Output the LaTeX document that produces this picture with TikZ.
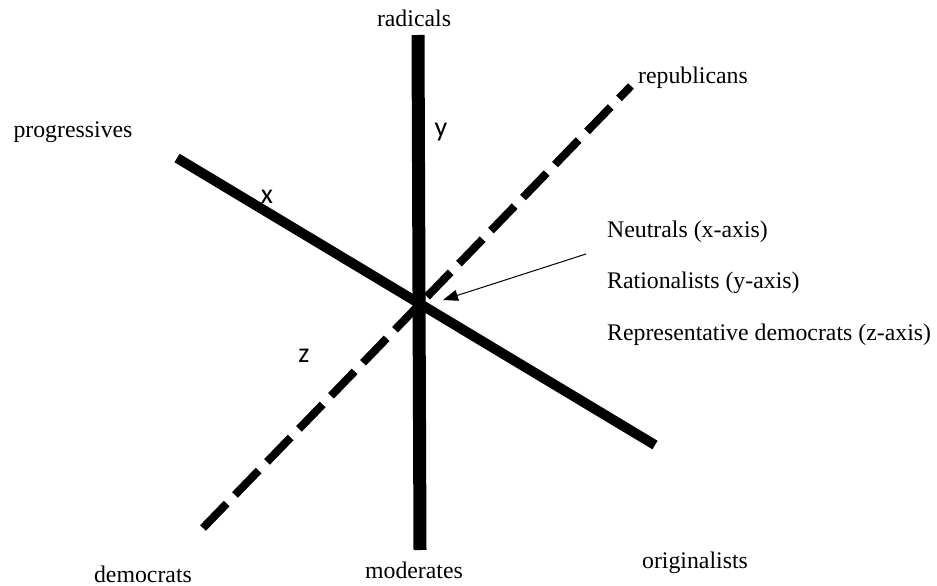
\documentclass[tikz,border=0pt]{standalone}
\usepackage{fontspec}
\setmainfont{Liberation Serif}
\newfontfamily\axisfont{Carlito}
\usetikzlibrary{arrows.meta, positioning}

\begin{document}
\begin{tikzpicture}[
    x=1pt, y=-1pt,
    lbl/.style={inner sep=0pt, anchor=base, font=\fontsize{23.8}{28}\selectfont},
    axlbl/.style={inner sep=0pt, anchor=base, font=\axisfont\fontsize{28}{32}\selectfont},
    axis/.style={draw=black, line cap=butt},
    arr/.style={-{Triangle[length=15pt,width=11pt]}, draw=black, line width=1pt}
  ]
    \useasboundingbox (0,0) rectangle (937,586);
    % axis ends
    \coordinate (ytop) at (418,35);
    \coordinate (ybot) at (420,550);
    \coordinate (xtop) at (177,158);
    \coordinate (xbot) at (655,445);
    \coordinate (zbot) at (203,528);
    \coordinate (ztop) at (631,86);
    \coordinate (origin) at (419,303);
    \coordinate (pointer) at (586,254);
    % axes
    \draw[axis, line width=13pt] (ytop) -- (ybot);
    \draw[axis, line width=10pt] (xtop) -- (xbot);
    \draw[axis, line width=8pt, dash pattern=on 34pt off 12pt] (zbot) -- (ztop);
    \draw[arr] (pointer) -- ([shift={(24,-3)}]origin);
    % labels
    \node[lbl] (radicals) at (414,27) {radicals};
    \node[lbl] (moderates) at (414,578) {moderates};
    \node[lbl] (progressives) at (73,137) {progressives};
    \node[lbl] (originalists) at (695,568) {originalists};
    \node[lbl] (republicans) at (693,83) {republicans};
    \node[lbl] (democrats) at (143,582) {democrats};
    \node[axlbl] (ylbl) at (441,136) {y};
    \node[axlbl] (xlbl) at (267,203) {x};
    \node[axlbl] (zlbl) at (304,362) {z};
    \node[lbl, anchor=base west] (neutrals) at (607,237) {Neutrals (x-axis)};
    \node[lbl, anchor=base west] (rationalists) at (607,288) {Rationalists (y-axis)};
    \node[lbl, anchor=base west] (reps) at (607,340) {Representative democrats (z-axis)};
  \end{tikzpicture}
\end{document}
